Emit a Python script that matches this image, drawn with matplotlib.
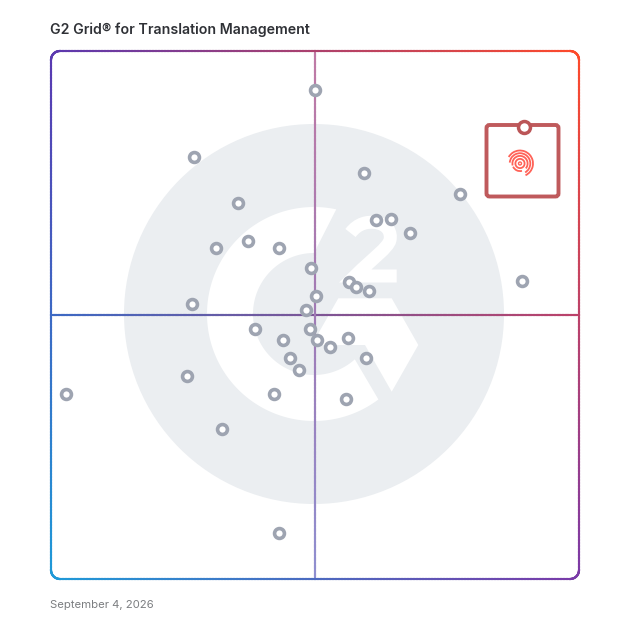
import numpy as np
import matplotlib
matplotlib.use('Agg')
import matplotlib.pyplot as plt
from matplotlib.collections import LineCollection
from matplotlib.patches import Circle, PathPatch, Polygon, Arc, FancyBboxPatch
from matplotlib.path import Path
from matplotlib.transforms import Affine2D

plt.rcParams['font.family'] = ['Inter', 'DejaVu Sans']

title = 'G2 Grid® for Translation Management'
date_label = 'September 4, 2026'

# scores, 0-100 on both axes
satisfaction = [50.0, 27.2, 59.4, 77.5, 35.5, 61.7, 64.5, 68.0, 31.25, 37.4, 43.3, 49.4,
                56.6, 57.8, 60.3, 89.2, 50.3, 26.7, 48.4, 38.7, 49.05, 44.1, 50.5, 56.3,
                53.0, 45.3, 59.8, 47.1, 25.9, 3.0, 42.4, 56.0, 32.5, 43.2]
presence = [92.6, 79.9, 76.8, 72.9, 71.2, 68.0, 68.1, 65.5, 62.7, 64.0, 62.6, 58.9,
            56.25, 55.2, 54.4, 56.3, 53.5, 52.1, 50.8, 47.3, 47.2, 45.2, 45.1, 45.6,
            43.9, 41.8, 41.7, 39.6, 38.3, 34.9, 34.9, 34.1, 28.3, 8.7]
highlight_x = [89.6]
highlight_y = [85.55]

fig = plt.figure(figsize=(6.28, 6.28), dpi=100)
ax = fig.add_axes([0, 0, 1, 1])
# half a pixel of offset lines the points up with the reference
ax.set_xlim(-50.6 / 5.28, 577.4 / 5.28)
ax.set_ylim(-49.4 / 5.28, 578.6 / 5.28)
ax.axis('off')

# decoration is placed in image pixels, y down
px = Affine2D().scale(1, -1).translate(0, 628)

TL = np.array(matplotlib.colors.to_rgb('#5a38b0'))
TR = np.array(matplotlib.colors.to_rgb('#ff4a2a'))
BL = np.array(matplotlib.colors.to_rgb('#1e9ad8'))
BR = np.array(matplotlib.colors.to_rgb('#7a3aa8'))


def corner_mix(x, y):
    u = (x - 51) / 528
    v = (y - 51) / 528
    return (1 - u) * (1 - v) * TL + u * (1 - v) * TR + (1 - u) * v * BL + u * v * BR


def grad_line(xs, ys, colors, lw=2.1, z=3):
    pts = np.column_stack([xs, ys])
    segs = np.stack([pts[:-1], pts[1:]], axis=1)
    lc = LineCollection(segs, colors=colors, linewidths=lw * 0.72, transform=px,
                        capstyle='projecting', zorder=z)
    ax.add_collection(lc, autolim=False)


# logo
ax.add_patch(Circle((314, 314), 190, fc='#ebeef1', ec='none', transform=px, zorder=1))

a_outer = np.radians(np.linspace(78, 307, 160))
a_inner = np.radians(np.linspace(312, 90, 160))
ring = np.vstack([
    np.column_stack([314 + 107 * np.cos(a_outer), 314 - 107 * np.sin(a_outer)]),
    np.column_stack([314 + 61 * np.cos(a_inner), 314 - 61 * np.sin(a_inner)]),
])
ax.add_patch(Polygon(ring, fc='white', ec='none', transform=px, zorder=2))

chevron = [(338.3, 298.3), (391.7, 298.3), (418.3, 345), (391.7, 391.7), (365, 345), (311.7, 345)]
ax.add_patch(Polygon(chevron, fc='white', ec='none', transform=px, zorder=2))

two = Path([(350.5, 233), (358, 223), (368, 221.5), (375, 222.5),
            (388, 224), (391.5, 233), (390, 240),
            (388, 248), (373, 258), (355, 276), (396.7, 276)],
           [Path.MOVETO, Path.CURVE4, Path.CURVE4, Path.CURVE4,
            Path.CURVE4, Path.CURVE4, Path.CURVE4,
            Path.CURVE4, Path.CURVE4, Path.CURVE4, Path.LINETO])
ax.add_patch(PathPatch(two, fc='none', ec='white', lw=13 * 0.72, capstyle='butt',
                       joinstyle='miter', transform=px, zorder=2))

# quadrant lines
t = np.linspace(0, 1, 200)
xs = 51 + 528 * t
grad_line(xs, np.full_like(xs, 315.0), [corner_mix(x, 315) for x in xs[:-1]], z=3)
top_c = np.array(matplotlib.colors.to_rgb('#c07aa5'))
mid_c = np.array(matplotlib.colors.to_rgb('#a07ab5'))
bot_c = np.array(matplotlib.colors.to_rgb('#8f8fd0'))
ys = 51 + 528 * t
vcols = [top_c + (mid_c - top_c) * s * 2 if s < 0.5 else mid_c + (bot_c - mid_c) * (s - 0.5) * 2
         for s in t[:-1]]
grad_line(np.full_like(ys, 315.0), ys, vcols, z=3)

# border, rounded corners
r = 9
arc = np.linspace(0, np.pi / 2, 12)
bx, by = [], []
for cx, cy, start in [(579 - r, 51 + r, -np.pi / 2), (579 - r, 579 - r, 0),
                      (51 + r, 579 - r, np.pi / 2), (51 + r, 51 + r, np.pi)]:
    bx.extend(cx + r * np.cos(start + arc))
    by.extend(cy + r * np.sin(start + arc))
bx.append(bx[0])
by.append(by[0])
# split the straight sides so the colour follows along them
fx, fy = [], []
for i in range(len(bx) - 1):
    n = max(2, int(np.hypot(bx[i + 1] - bx[i], by[i + 1] - by[i]) / 3))
    fx.extend(np.linspace(bx[i], bx[i + 1], n, endpoint=False))
    fy.extend(np.linspace(by[i], by[i + 1], n, endpoint=False))
fx.append(fx[0])
fy.append(fy[0])
grad_line(fx, fy, [corner_mix(x, y) for x, y in zip(fx[:-1], fy[:-1])], lw=2.1, z=4)

# vendor points
ax.plot(satisfaction, presence, ls='none', marker='o', ms=7.1, mfc='white', mec='#9ea4b1',
        mew=2.6, zorder=5)

# highlighted vendor
ax.add_patch(FancyBboxPatch((486.5, 125), 72, 71.5, boxstyle='round,pad=0,rounding_size=3',
                            fc='none', ec='#bf5a5c', lw=3.9 * 0.72, transform=px, zorder=6))
ax.plot(highlight_x, highlight_y, ls='none', marker='o', ms=8.6, mfc='white', mec='#bb5557',
        mew=2.5, zorder=7)

# fingerprint icon
icon = '#ff6257'
ax.add_patch(Circle((520, 163.5), 1.5, fc='none', ec=icon, lw=1.0, transform=px, zorder=6))
for rad, spans in [(4.6, [(0, 360)]),
                   (7.6, [(-40, 195), (205, 285)]),
                   (10.3, [(-60, 175)]),
                   (13, [(-65, 150)])]:
    for a0, a1 in spans:
        # Arc angles run the other way once y is flipped
        ax.add_patch(Arc((520, 163.5), 2 * rad, 2 * rad, theta1=-a1, theta2=-a0, ec=icon, lw=1.3,
                         transform=px, zorder=6))

ax.text(50, 30, title, transform=px, fontsize=10.2, fontweight='semibold', color='#2f3136',
        ha='left', va='center')
ax.text(50, 605, date_label, transform=px, fontsize=8.15, color='#7b7d80', ha='left', va='center')

fig.savefig('out.png', dpi=100)
